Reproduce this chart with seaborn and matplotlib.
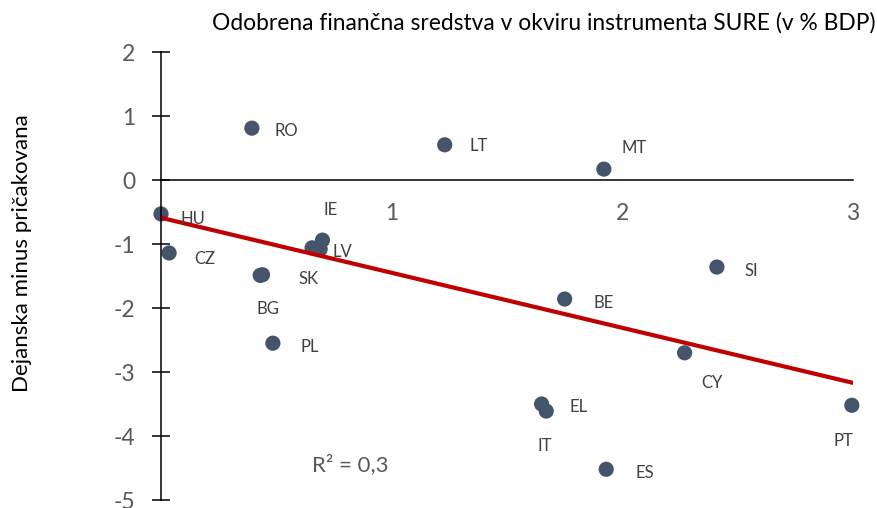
import matplotlib
matplotlib.use("Agg")
import matplotlib.pyplot as plt
import seaborn as sns
import pandas as pd
from matplotlib.ticker import MultipleLocator

# data
countries = ["HU", "CZ", "RO", "SK", "BG", "PL", "IE", "LV", "", "LT", "MT",
             "BE", "SI", "CY", "IT", "EL", "ES", "PT"]
sure = [0.0, 0.035, 0.394, 0.44, 0.43, 0.485, 0.70, 0.655, 0.69, 1.23, 1.92,
        1.75, 2.41, 2.27, 1.65, 1.67, 1.93, 2.995]
diff = [-0.53, -1.14, 0.81, -1.48, -1.49, -2.55, -0.94, -1.06, -1.08, 0.55, 0.17,
        -1.86, -1.36, -2.70, -3.50, -3.61, -4.52, -3.52]

# label offsets in points (dx, dy)
label_off = {
    "HU": (14, -4), "CZ": (18, -4), "RO": (16, -2), "SK": (26, -3),
    "BG": (-3, -24), "PL": (20, -3), "IE": (1, 22), "LV": (15, -3),
    "LT": (18, -1), "MT": (13, 15), "BE": (21, -3), "SI": (20, -3),
    "CY": (12, -22), "IT": (-3, -30), "EL": (17, 3), "ES": (21, -3),
    "PT": (-13, -26),
}

trend_x = [0, 3]
trend_y = [-0.59, -3.17]

df = pd.DataFrame({"country": countries, "sure": sure, "diff": diff})

sns.set_style("white")
plt.rcParams["font.family"] = ["Lato", "DejaVu Sans"]
plt.rcParams["axes.unicode_minus"] = False

fig = plt.figure(figsize=(8.78, 5.08), dpi=100)
ax = fig.add_axes([161 / 878, 1 - 500 / 508, (853 - 161) / 878, (500 - 52) / 508])

sns.lineplot(x=trend_x, y=trend_y, color="#C00000", linewidth=3, ax=ax, zorder=3)
sns.scatterplot(data=df, x="sure", y="diff", color="#44546A", s=120,
                edgecolor="none", ax=ax, zorder=2, clip_on=False)

for c, x, y in zip(countries, sure, diff):
    if not c:
        continue
    dx, dy = label_off[c]
    ax.annotate(c, (x, y), xytext=(dx, dy), textcoords="offset points",
                ha="left", va="center", fontsize=12, color="#404040")

ax.set_xlim(0, 3)
ax.set_ylim(-5, 2)

for side in ["top", "right"]:
    ax.spines[side].set_visible(False)
ax.spines["left"].set_position(("data", 0))
ax.spines["bottom"].set_position(("data", 0))
for side in ["left", "bottom"]:
    ax.spines[side].set_color("black")
    ax.spines[side].set_linewidth(1.1)
    ax.spines[side].set_zorder(4)

ax.set_xticks([0, 1, 2, 3])
ax.set_xticklabels(["", "1", "2", "3"])
ax.xaxis.set_minor_locator(MultipleLocator(0.5))
ax.set_yticks(range(-5, 3))
ax.tick_params(axis="x", which="major", direction="inout", length=13, width=1.1,
               pad=10, labelsize=16.5, labelcolor="#595959", color="black")
ax.tick_params(axis="x", which="minor", direction="inout", length=9, width=1.1,
               color="black")
ax.tick_params(axis="y", which="major", direction="inout", length=13, width=1.1,
               pad=12, labelsize=16.5, labelcolor="#595959", color="black", left=True)
ax.set_xlabel("")
ax.set_ylabel("")

fig.text(350 / 878, 1 - 465 / 508, "R² = 0,3", fontsize=16, color="#595959",
         ha="center", va="center")
fig.text(876 / 878, 1 - 23 / 508, "Odobrena finančna sredstva v okviru instrumenta SURE (v % BDP)",
         ha="right", va="center", fontsize=16.4, color="black")
fig.text(22 / 878, 1 - 253 / 508, "Dejanska minus pričakovana", rotation=90,
         ha="center", va="center", fontsize=16, color="black")

fig.savefig("out.png", dpi=100)
